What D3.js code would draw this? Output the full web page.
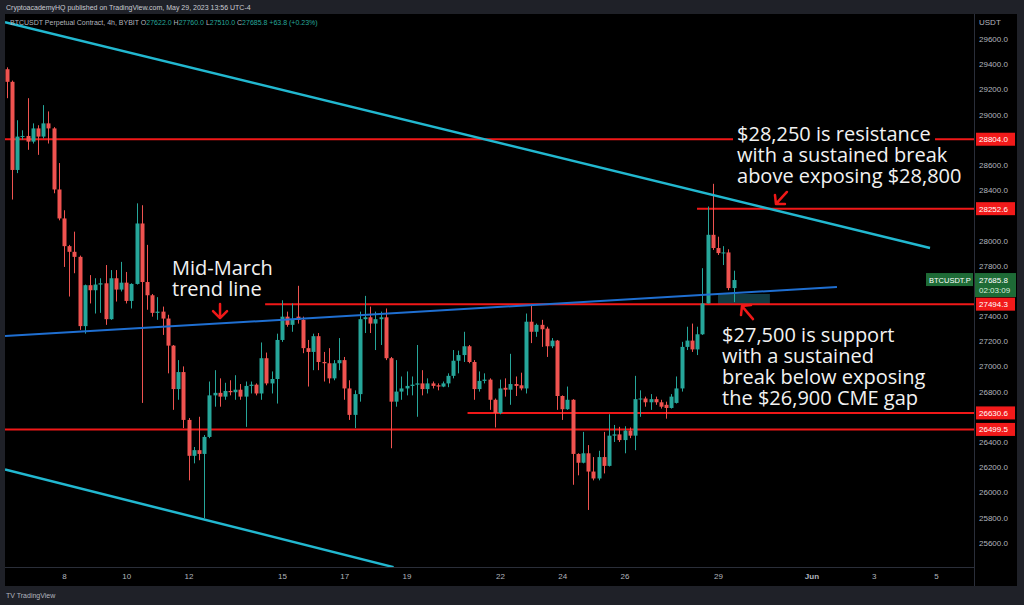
<!DOCTYPE html>
<html>
<head>
<meta charset="utf-8">
<script src="https://d3js.org/d3.v7.min.js"></script>
<style>
  body { margin: 0; background: #1f2128; }
  svg { display: block; }
</style>
</head>
<body>
<svg id="chart"></svg>
<script>
  // 4h candles, BTCUSDT perpetual, first bar May 6 04:00
  var opens = [29360,29260,28560,28825,28830,28785,28890,28825,28930,28890,28405,28175,27955,27910,27870,27320,27645,27605,27650,27660,
    27375,27700,27610,27665,27520,27655,28135,27670,27565,27425,27435,27380,27165,26820,26955,26575,26290,26335,26305,26440,
    26770,26790,26760,26805,26795,26815,26760,26845,26855,26785,27065,26865,26900,27210,27395,27330,27395,27370,27145,27115,
    27240,27035,27025,26905,27025,27050,26825,26615,26780,27375,27390,27340,27375,27390,27065,26720,26800,26825,26845,26855,
    26865,26820,26865,26850,26840,26865,26925,27045,27090,27160,27035,26820,26885,26895,26735,26630,26830,26815,26860,26850,
    26825,27355,27275,27330,27300,27160,27205,26765,26660,26735,26305,26235,26310,26165,26110,26280,26210,26450,26460,26415,
    26490,26450,26740,26745,26715,26740,26715,26695,26670,26710,26825,27155,27205,27135,27255,27500,28045,27940,27900,27905,27622]
  var highs = [29375,29270,28955,28875,29130,28930,28915,29075,29025,28900,28615,28240,27965,28070,27880,27650,27725,27700,27700,27805,
    27765,27765,27830,27750,27660,28295,28280,27965,27575,27550,27475,27410,27170,27050,27000,26590,26360,26600,26455,26880,
    26970,26905,26870,26890,26930,26860,26880,26880,26865,27190,27110,26960,27260,27525,27435,27500,27640,27395,27210,27260,
    27265,27115,27145,27050,27225,27075,26890,26810,27435,27560,27475,27435,27435,27460,27075,27050,26920,26960,26920,27170,
    26970,26905,26880,26865,26880,26945,27130,27125,27275,27170,27050,26960,26945,26905,26745,26895,26905,27100,26920,26950,
    27420,27485,27340,27370,27315,27225,27210,26770,26840,26740,26310,26480,26375,26280,26330,26480,26620,26535,26520,26525,
    26515,26925,26810,26760,26780,26760,26735,26720,26780,26920,27195,27315,27340,27315,27780,28270,28450,28030,27955,27930,27760]
  var lows = [29130,28325,28535,28800,28720,28770,28680,28810,28770,28375,28160,27790,27555,27740,27290,27260,27500,27420,27425,27330,
    27370,27515,27595,27500,27460,27650,26710,27450,27395,27370,27250,26945,26655,26735,26510,26095,26230,26255,25795,26430,
    26680,26680,26735,26770,26735,26735,26520,26785,26770,26735,26850,26785,26705,27195,27315,27275,27340,27105,26840,26970,
    26970,26880,26865,26890,26970,26735,26575,26510,26720,27265,27265,27130,27170,27050,26350,26680,26735,26770,26770,26600,
    26770,26785,26825,26810,26835,26835,26905,26945,27035,27025,26735,26800,26865,26655,26515,26620,26760,26695,26765,26810,
    26785,27185,27235,27155,27075,27145,26655,26575,26655,26060,26135,26230,25860,26095,26095,26150,26205,26400,26400,26310,
    26430,26335,26600,26680,26655,26695,26665,26585,26665,26705,26800,27130,27115,27090,27250,27500,27925,27885,27805,27605,27510]
  var closes = [29260,28560,28825,28830,28785,28890,28825,28930,28890,28405,28175,27955,27910,27870,27320,27645,27605,27650,27660,27375,
    27700,27610,27665,27520,27655,28135,27670,27565,27425,27435,27380,27165,26820,26955,26575,26290,26335,26305,26440,26770,
    26790,26760,26805,26795,26815,26760,26845,26855,26785,27065,26865,26900,27210,27395,27330,27375,27370,27145,27115,27240,
    27035,27025,26905,27025,27050,26825,26615,26780,27375,27390,27340,27375,27390,27065,26720,26800,26825,26845,26855,26865,
    26820,26865,26845,26840,26865,26925,27045,27090,27160,27035,26820,26885,26895,26735,26630,26825,26815,26860,26845,26825,
    27355,27275,27330,27295,27160,27205,26765,26660,26735,26305,26235,26310,26165,26110,26280,26210,26450,26460,26415,26490,
    26450,26740,26745,26715,26740,26715,26680,26670,26760,26825,27155,27205,27135,27255,27500,28045,27940,27900,27905,27622,27685.8]

  var priceTicks = [25600,25800,26000,26200,26400,26600,26800,27000,27200,27400,27600,27800,28000,28200,28400,28600,28800,29000,29200,29400,29600]
  var dayTicks = ['2023-05-08','2023-05-10','2023-05-12','2023-05-15','2023-05-17','2023-05-19','2023-05-22','2023-05-24','2023-05-26','2023-05-29','2023-06-01','2023-06-03','2023-06-05']
  var dayLabels = ['8','10','12','15','17','19','22','24','26','29','Jun','3','5']

  // horizontal levels (start date, null = whole chart)
  var levelPrices = [28804.0, 28252.6, 27494.3, 26630.6, 26499.5]
  var levelStarts = [null, '2023-05-28T07:50Z', '2023-05-14T11:00Z', '2023-05-20T23:00Z', null]

  // trend lines
  var upperChannel = [['2023-05-06T02:32Z', 29733], ['2023-06-04T19:25Z', 27940]]
  var lowerChannel = [['2023-05-06T02:32Z', 26181], ['2023-05-18T14:00Z', 25406]]
  var midMarchLine = [['2023-05-06T02:32Z', 27241], ['2023-06-01T19:40Z', 27630]]
  var gapBox = [['2023-05-29T00:00Z', 27575], ['2023-05-30T16:00Z', 27494.3]]

  var notes = [
    {at: ['2023-05-11T11:15Z', 27726], lines: ['Mid-March', 'trend line']},
    {at: ['2023-05-29T14:40Z', 28790], lines: ['$28,250 is resistance', 'with a sustained break', 'above exposing $28,800']},
    {at: ['2023-05-29T03:10Z', 27190], lines: ['$27,500 is support', 'with a sustained', 'break below exposing', 'the $26,900 CME gap']}
  ]
  var arrows = [
    {at: ['2023-05-13T00:15Z', 27384], dir: 'down'},
    {at: ['2023-05-30T20:40Z', 28290], dir: 'downleft'},
    {at: ['2023-05-29T18:30Z', 27479], dir: 'upleft'}
  ]

  var W = 1024, H = 605
  var plotL = 5, plotR = 974, plotT = 14, plotB = 567
  var green = '#26a69a', red = '#ef5350', lineRed = '#f01818'
  var firstBar = Date.UTC(2023, 4, 6, 4)
  var barMs = 4 * 3600 * 1000

  var svg = d3.select('#chart').attr('width', W).attr('height', H)
    .style('font-family', '"Liberation Sans", Arial, sans-serif')

  var x = d3.scaleUtc()
    .domain([new Date(Date.UTC(2023, 4, 6, 2, 32)), new Date(Date.UTC(2023, 5, 6, 5, 18))])
    .range([plotL, plotR])
  var y = d3.scaleLinear().domain([25600, 29600]).range([542.7, 39])
  var px = function (p) { return [x(new Date(p[0])), y(p[1])] }

  // frame
  svg.append('rect').attr('width', W).attr('height', H).attr('fill', '#1f2128')
  svg.append('rect').attr('x', plotL).attr('y', plotT).attr('width', 1017 - plotL).attr('height', 586 - plotT).attr('fill', '#000')
  svg.append('line').attr('x1', plotR + 0.5).attr('x2', plotR + 0.5).attr('y1', plotT).attr('y2', 586).attr('stroke', '#2a2e39')
  svg.append('line').attr('x1', plotL).attr('x2', plotR).attr('y1', plotB + 0.5).attr('y2', plotB + 0.5).attr('stroke', '#2a2e39')

  svg.append('defs').append('clipPath').attr('id', 'plot')
    .append('rect').attr('x', plotL).attr('y', plotT).attr('width', plotR - plotL).attr('height', plotB - plotT)
  var plot = svg.append('g').attr('clip-path', 'url(#plot)')

  // header
  svg.append('text').attr('x', 6).attr('y', 10).attr('fill', '#c9cbd1').attr('font-size', 7)
    .text('CryptoacademyHQ published on TradingView.com, May 29, 2023 13:56 UTC-4')
  var hdr = svg.append('text').attr('x', 10).attr('y', 25).attr('font-size', 7).attr('fill', '#b2b5be')
  hdr.append('tspan').text('BTCUSDT Perpetual Contract, 4h, BYBIT  ')
  var last = closes.length - 1
  var ohlc = [['O', opens[last]], ['H', highs[last]], ['L', lows[last]], ['C', closes[last]]]
  ohlc.forEach(function (d) {
    hdr.append('tspan').attr('fill', '#b2b5be').text(' ' + d[0])
    hdr.append('tspan').attr('fill', green).text(d3.format('.1f')(d[1]))
  })
  hdr.append('tspan').attr('fill', green).text('  +63.8 (+0.23%)')

  // gap box
  var gb0 = px(gapBox[0]), gb1 = px(gapBox[1])
  plot.append('rect').attr('x', gb0[0]).attr('y', gb0[1]).attr('width', gb1[0] - gb0[0]).attr('height', gb1[1] - gb0[1])
    .attr('fill', '#123a40')

  // levels
  plot.selectAll('line.level').data(levelPrices).enter().append('line').attr('class', 'level')
    .attr('x1', function (d, i) { return levelStarts[i] ? x(new Date(levelStarts[i])) : plotL })
    .attr('x2', plotR)
    .attr('y1', function (d) { return y(d) }).attr('y2', function (d) { return y(d) })
    .attr('stroke', lineRed).attr('stroke-width', 2)

  // candles
  var idx = d3.range(opens.length)
  var cx = function (i) { return x(new Date(firstBar + i * barMs)) }
  var col = function (i) { return closes[i] >= opens[i] ? green : red }
  plot.selectAll('line.wick').data(idx).enter().append('line').attr('class', 'wick')
    .attr('x1', function (i) { return Math.round(cx(i)) + 0.5 }).attr('x2', function (i) { return Math.round(cx(i)) + 0.5 })
    .attr('y1', function (i) { return y(highs[i]) }).attr('y2', function (i) { return y(lows[i]) })
    .attr('stroke', col).attr('stroke-width', 1)
  plot.selectAll('rect.body').data(idx).enter().append('rect').attr('class', 'body')
    .attr('x', function (i) { return Math.round(cx(i)) - 1.5 })
    .attr('width', 4)
    .attr('y', function (i) { return y(Math.max(opens[i], closes[i])) })
    .attr('height', function (i) { return Math.max(1, Math.abs(y(opens[i]) - y(closes[i]))) })
    .attr('fill', col)

  // trend lines
  var tl = function (pts, color, w) {
    var a = px(pts[0]), b = px(pts[1])
    plot.append('line').attr('x1', a[0]).attr('y1', a[1]).attr('x2', b[0]).attr('y2', b[1])
      .attr('stroke', color).attr('stroke-width', w)
  }
  tl(upperChannel, '#22b8d0', 2.5)
  tl(lowerChannel, '#22b8d0', 2.5)
  tl(midMarchLine, '#1f6fd1', 2)

  // notes
  notes.forEach(function (n, k) {
    var p = px(n.at)
    if (k > 0) {
      plot.append('rect').attr('x', p[0] - 4).attr('y', p[1] - 20).attr('width', k === 1 ? 202 : 222)
        .attr('height', n.lines.length * 21 + 5).attr('fill', '#000').attr('opacity', k === 1 ? 1 : 0.6)
    }
    var t = plot.append('text').attr('x', p[0]).attr('y', p[1]).attr('fill', '#f2f2f2')
      .attr('font-family', '"Open Sans", sans-serif').attr('font-size', 20)
    n.lines.forEach(function (s, j) {
      t.append('tspan').attr('x', p[0]).attr('dy', j ? 21 : 0).text(s)
    })
  })

  // arrows
  var shapes = {
    down: 'M0,0 L0,-14 M0,0 L-7,-7 M0,0 L7,-7',
    downleft: 'M0,0 L11,-12 M0,0 L-1,-9 M0,0 L9,0',
    upleft: 'M0,0 L11,13 M0,0 L-1,9 M0,0 L9,-1'
  }
  arrows.forEach(function (a) {
    var p = px(a.at)
    plot.append('path').attr('d', shapes[a.dir]).attr('transform', 'translate(' + p[0] + ',' + p[1] + ')')
      .attr('fill', 'none').attr('stroke', lineRed).attr('stroke-width', 2.5).attr('stroke-linecap', 'round')
  })

  // price axis (labels hidden where a level / last price tag covers them)
  var last = closes.length - 1
  var tagged = levelPrices.concat([closes[last], closes[last] - 90])
  var shown = priceTicks.filter(function (t) {
    return tagged.every(function (p) { return Math.abs(y(p) - y(t)) > 9 })
  })
  var yAxis = svg.append('g').attr('transform', 'translate(' + (plotR + 5) + ',0)')
    .call(d3.axisRight(y).tickValues(shown).tickFormat(d3.format('.1f')).tickSize(0))
  yAxis.select('.domain').remove()
  yAxis.selectAll('text').attr('fill', '#b2b5be').attr('font-size', 8).attr('x', 0)
    .attr('font-family', '"Liberation Sans", Arial, sans-serif')
  svg.append('text').attr('x', plotR + 5).attr('y', 25).attr('fill', '#b2b5be').attr('font-size', 8).text('USDT')

  // time axis
  var xAxis = svg.append('g').attr('transform', 'translate(0,' + plotB + ')')
    .call(d3.axisBottom(x).tickValues(dayTicks.map(function (d) { return new Date(d + 'T00:00Z') }))
      .tickFormat(function (d, i) { return dayLabels[i] }).tickSize(0))
  xAxis.select('.domain').remove()
  xAxis.selectAll('text').attr('fill', '#b2b5be').attr('font-size', 8).attr('dy', 0).attr('y', 12)
    .attr('font-family', '"Liberation Sans", Arial, sans-serif')
    .attr('font-weight', function (d, i) { return dayLabels[i] === 'Jun' ? 'bold' : null })

  // level tags
  levelPrices.forEach(function (p) {
    svg.append('rect').attr('x', plotR + 2).attr('y', y(p) - 6.5).attr('width', 39).attr('height', 13).attr('fill', '#f21a1a')
    svg.append('text').attr('x', plotR + 5).attr('y', y(p) + 3).attr('fill', '#fff').attr('font-size', 8)
      .text(d3.format('.1f')(p))
  })

  // last price tag
  var yl = y(closes[last])
  svg.append('rect').attr('x', plotR + 1).attr('y', yl - 7).attr('width', 41).attr('height', 24).attr('fill', '#1e6b36')
  svg.append('text').attr('x', plotR + 5).attr('y', yl + 3).attr('fill', '#fff').attr('font-size', 8).text(d3.format('.1f')(closes[last]))
  svg.append('text').attr('x', plotR + 5).attr('y', yl + 13).attr('fill', '#d8f0dc').attr('font-size', 8).text('02:03:09')
  svg.append('rect').attr('x', plotR - 48).attr('y', yl - 7).attr('width', 47).attr('height', 13).attr('fill', '#1e6b36')
  svg.append('text').attr('x', plotR - 45).attr('y', yl + 3).attr('fill', '#fff').attr('font-size', 7.5).text('BTCUSDT.P')

  // footer
  svg.append('text').attr('x', 6).attr('y', 598).attr('fill', '#b2b5be').attr('font-size', 7)
    .text('TV TradingView')
</script>
</body>
</html>
